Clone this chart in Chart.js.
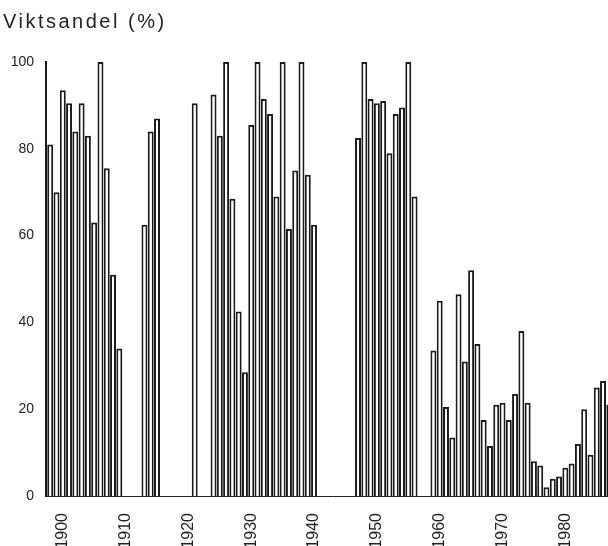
<!DOCTYPE html>
<html>
<head>
<meta charset="utf-8">
<script src="https://cdn.jsdelivr.net/npm/chart.js@4.4.1/dist/chart.umd.min.js"></script>
<style>
  html, body { margin: 0; padding: 0; background: #fff; overflow: hidden; width: 608px; height: 546px; }
  #wrap { position: relative; width: 620px; height: 556px; }
  #myChart { position: absolute; left: 0; top: 0; }
  #title { position: absolute; left: 3px; top: 10px; font: 20px "Liberation Sans", Arial, sans-serif; letter-spacing: 2.5px; color: #222; }
</style>
</head>
<body>
<div id="wrap">
  <canvas id="myChart" width="620" height="556"></canvas>
  <div id="title">Viktsandel (%)</div>
</div>
<script>
    // years that have a bar, and the weight share (%) for each
    var years = [1898, 1899, 1900, 1901, 1902, 1903, 1904, 1905, 1906, 1907, 1908, 1909,
                 1913, 1914, 1915,
                 1921, 1924, 1925, 1926, 1927, 1928, 1929,
                 1930, 1931, 1932, 1933, 1934, 1935, 1936, 1937, 1938, 1939, 1940,
                 1947, 1948, 1949, 1950, 1951, 1952, 1953, 1954, 1955, 1956,
                 1959, 1960, 1961, 1962, 1963, 1964, 1965, 1966, 1967, 1968, 1969,
                 1970, 1971, 1972, 1973, 1974, 1975, 1976, 1977, 1978, 1979,
                 1980, 1981, 1982, 1983, 1984, 1985, 1986, 1987];
    var share = [81, 70, 93.5, 90.5, 84, 90.5, 83, 63, 100, 75.5, 51, 34,
                 62.5, 84, 87,
                 90.5, 92.5, 83, 100, 68.5, 42.5, 28.5,
                 85.5, 100, 91.5, 88, 69, 100, 61.5, 75, 100, 74, 62.5,
                 82.5, 100, 91.5, 90.5, 91, 79, 88, 89.5, 100, 69,
                 33.5, 45, 20.5, 13.5, 46.5, 31, 52, 35, 17.5, 11.5, 21,
                 21.5, 17.5, 23.5, 38, 21.5, 8, 7, 2, 4, 4.5,
                 6.5, 7.5, 12, 20, 9.5, 25, 26.5, 21];

    var xTicks = [1900, 1910, 1920, 1930, 1940, 1950, 1960, 1970, 1980];
    var yTicks = [0, 20, 40, 60, 80, 100];

    var points = years.map(function (yr, i) {
        return { x: yr, y: share[i] };
    });

    var font = '"Liberation Sans", Arial, sans-serif';

    var ctx = document.getElementById('myChart').getContext('2d');
    var chart = new Chart(ctx, {
        type: 'bar',
        data: {
            datasets: [{
                label: 'Viktsandel (%)',
                data: points,
                backgroundColor: '#ffffff',
                borderColor: '#1b1b1b',
                borderWidth: 2,
                barPercentage: 0.95,
                categoryPercentage: 1.0
            }]
        },
        options: {
            responsive: false,
            animation: false,
            layout: { padding: { left: 0, right: 0, top: 62, bottom: 0 } },
            plugins: {
                legend: { display: false },
                tooltip: { enabled: false }
            },
            scales: {
                x: {
                    type: 'linear',
                    offset: false,
                    min: 1897.33,
                    max: 1988.7,
                    afterFit: function (s) { s.height = 60; },
                    afterBuildTicks: function (s) {
                        s.ticks = xTicks.map(function (v) { return { value: v }; });
                    },
                    grid: { display: false, drawTicks: false },
                    border: { display: true, color: '#222', width: 1 },
                    ticks: {
                        autoSkip: false,
                        maxRotation: 90,
                        minRotation: 90,
                        padding: 17,
                        color: '#222',
                        font: { family: font, size: 16 },
                        callback: function (v) { return String(v); }
                    }
                },
                y: {
                    min: 0,
                    max: 100,
                    afterFit: function (s) { s.width = 46; },
                    afterBuildTicks: function (s) {
                        s.ticks = yTicks.map(function (v) { return { value: v }; });
                    },
                    grid: { display: false, drawTicks: false },
                    border: { display: true, color: '#1b1b1b', width: 2 },
                    ticks: {
                        padding: 12,
                        color: '#222',
                        font: { family: font, size: 14 }
                    }
                }
            }
        }
    });
</script>
</body>
</html>
